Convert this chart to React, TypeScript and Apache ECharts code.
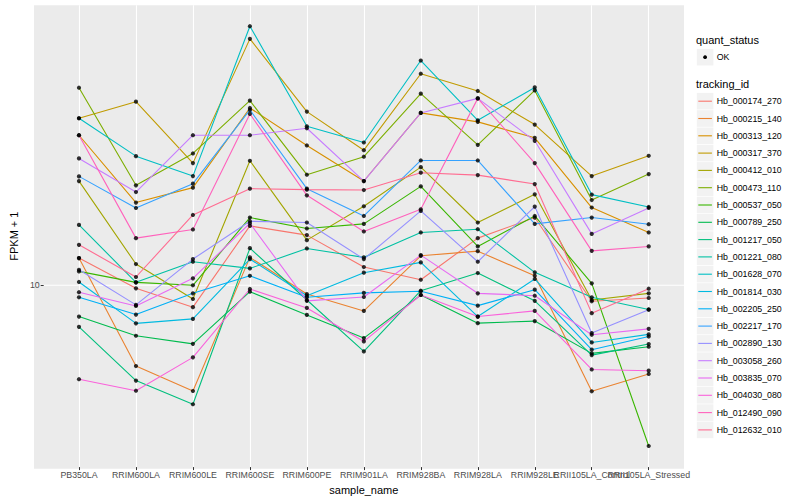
import React, { useEffect, useRef } from 'react';
import * as echarts from 'echarts';

const categories = [
  'PB350LA', 'RRIM600LA', 'RRIM600LE', 'RRIM600SE', 'RRIM600PE', 'RRIM901LA',
  'RRIM928BA', 'RRIM928LA', 'RRIM928LE', 'RRII105LA_Control', 'RRII105LA_Stressed',
];

const trackingIds = [
  'Hb_000174_270', 'Hb_000215_140', 'Hb_000313_120', 'Hb_000317_370', 'Hb_000412_010',
  'Hb_000473_110', 'Hb_000537_050', 'Hb_000789_250', 'Hb_001217_050', 'Hb_001221_080',
  'Hb_001628_070', 'Hb_001814_030', 'Hb_002205_250', 'Hb_002217_170', 'Hb_002890_130',
  'Hb_003058_260', 'Hb_003835_070', 'Hb_004030_080', 'Hb_012490_090', 'Hb_012632_010',
];

const lineColors = [
  '#F8766D', '#EA8331', '#D89000', '#C09B00', '#A3A500', '#7CAE00', '#39B600', '#00BB4E',
  '#00BF7D', '#00C1A3', '#00BFC4', '#00BAE0', '#00B0F6', '#35A2FF', '#9590FF', '#C77CFF',
  '#E76BF3', '#FA62DB', '#FF62BC', '#FF6C91',
];

// FPKM + 1 per sample (same order as categories)
const hb000174_270 = [12.33, 9.77, 8.45, 15.8, 14.72, 11.51, 10.44, 14.38, 16.85, 8.84, 9.07];
const hb000215_140 = [12.33, 5.37, 4.43, 12.4, 9.35, 8.21, 12.55, 13.01, 10.76, 4.42, 5.05];
const hb000313_120 = [31.77, 18.91, 21.22, 39.2, 29.36, 22.33, 37.73, 35.22, 31.14, 18.2, 15.02];
const hb000317_370 = [36.21, 41.14, 25.63, 66.74, 38.11, 28.31, 51.02, 44.67, 34.49, 23.19, 27.12];
const hb000412_010 = [22.32, 11.78, 9.0, 26.1, 14.16, 18.38, 24.85, 16.22, 20.15, 8.93, 9.4];
const hb000473_110 = [45.81, 21.6, 27.61, 41.46, 23.44, 26.92, 43.75, 29.51, 44.87, 19.29, 23.55];
const hb000537_050 = [11.13, 10.23, 10.0, 16.85, 15.49, 16.05, 21.43, 13.49, 17.06, 10.15, 2.9];
const hb000789_250 = [7.86, 6.78, 6.37, 9.52, 7.96, 6.66, 9.28, 7.47, 7.59, 5.92, 6.23];
const hb001217_050 = [7.26, 4.8, 4.0, 13.31, 8.93, 6.01, 9.59, 10.99, 8.87, 5.84, 6.36];
const hb001221_080 = [15.92, 10.23, 11.99, 11.39, 13.28, 12.4, 15.02, 15.4, 11.05, 9.12, 8.3];
const hb001628_070 = [36.21, 27.04, 23.19, 73.56, 34.04, 30.04, 56.49, 35.65, 45.92, 20.11, 18.28];
const hb001814_030 = [10.26, 7.46, 7.72, 12.24, 9.23, 11.02, 11.93, 7.86, 10.5, 6.44, 6.85];
const hb002205_250 = [9.12, 7.98, 9.4, 10.76, 9.12, 9.43, 9.55, 8.55, 9.67, 6.09, 6.74];
const hb002217_170 = [23.14, 18.14, 21.88, 38.61, 21.05, 17.06, 26.16, 26.16, 16.05, 16.85, 16.01];
const hb002890_130 = [11.27, 8.6, 12.24, 16.38, 16.22, 12.24, 17.73, 11.99, 18.34, 6.92, 8.29];
const hb003058_260 = [26.57, 20.51, 31.77, 31.77, 33.52, 22.32, 37.73, 42.2, 30.43, 14.86, 18.14];
const hb003835_070 = [9.48, 8.53, 10.55, 16.13, 8.87, 9.14, 12.62, 9.4, 9.23, 6.83, 7.15];
const hb004030_080 = [4.85, 4.44, 5.74, 9.72, 8.4, 6.49, 9.28, 7.86, 8.21, 5.23, 5.18];
const hb012490_090 = [31.77, 14.38, 15.37, 37.44, 20.0, 15.14, 17.96, 42.2, 25.63, 13.04, 13.49];
const hb012632_010 = [13.66, 10.66, 17.19, 21.05, 20.89, 20.83, 23.81, 23.37, 21.81, 8.07, 9.74];

const seriesValues = [
  hb000174_270, hb000215_140, hb000313_120, hb000317_370, hb000412_010,
  hb000473_110, hb000537_050, hb000789_250, hb001217_050, hb001221_080,
  hb001628_070, hb001814_030, hb002205_250, hb002217_170, hb002890_130,
  hb003058_260, hb003835_070, hb004030_080, hb012490_090, hb012632_010,
];

const yTickValues = [10];
const yTickLabels = ['10'];
const quantStatus = ['OK'];

export default function App() {
  const ref = useRef<HTMLDivElement>(null);

  useEffect(() => {
    if (!ref.current) return;
    const chart = echarts.init(ref.current, undefined, { renderer: 'svg' });
    const font = '"Liberation Sans", Arial, Helvetica, sans-serif';
    const panel = { x: 34, y: 5.2, w: 650, h: 463.6 };

    const lineSeries = trackingIds.map((id, i) => ({
      type: 'line',
      name: id,
      data: seriesValues[i],
      symbol: 'none',
      lineStyle: { color: lineColors[i], width: 1.1 },
      itemStyle: { color: lineColors[i] },
      z: 2,
      silent: true,
    }));
    const pointSeries = trackingIds.map((id, i) => ({
      type: 'scatter',
      name: id + ' OK',
      data: seriesValues[i],
      symbol: 'circle',
      symbolSize: 4.2,
      itemStyle: { color: '#000000' },
      z: 3,
      silent: true,
    }));

    chart.setOption({
      animation: false,
      textStyle: { fontFamily: font },
      grid: { left: 69.3, right: 151.3, top: panel.y, bottom: 500 - (panel.y + panel.h), containLabel: false },
      xAxis: {
        type: 'category',
        data: categories,
        boundaryGap: false,
        name: 'sample_name',
        nameLocation: 'middle',
        nameGap: 14,
        nameTextStyle: { color: '#000000', fontSize: 11, fontFamily: font },
        axisLine: { show: false },
        axisTick: { show: true, length: 3, alignWithLabel: true, lineStyle: { color: '#333333', width: 1 } },
        axisLabel: { interval: 0, color: '#4D4D4D', fontSize: 8.8, margin: 3, fontFamily: font },
        splitLine: { show: true, lineStyle: { color: '#FFFFFF', width: 1.1 } },
      },
      yAxis: {
        type: 'log',
        logBase: 10,
        min: 2.465,
        max: 86.5,
        offset: 69.3 - panel.x,
        name: 'FPKM + 1',
        nameLocation: 'middle',
        nameGap: 17,
        nameRotate: 90,
        nameTextStyle: { color: '#000000', fontSize: 11, fontFamily: font },
        axisLine: { show: false },
        axisTick: { show: true, length: 3, customValues: yTickValues, lineStyle: { color: '#333333', width: 1 } },
        axisLabel: {
          customValues: yTickValues,
          color: '#4D4D4D',
          fontSize: 8.8,
          margin: 4,
          fontFamily: font,
          formatter: (v: number) => {
            const k = yTickValues.findIndex((t) => Math.abs(t - v) < 1e-6);
            return k >= 0 ? yTickLabels[k] : '';
          },
        },
        splitLine: { show: false },
      },
      series: [...lineSeries, ...pointSeries],
    });

    const yTickPx = yTickValues.map((v) => chart.convertToPixel({ yAxisIndex: 0 }, v) as number);

    const legendX = 696.8;
    const keySize = 16.6;
    const pitch = 17.3;
    const firstKeyCy = 101.2;
    const graphics: any[] = [
      {
        type: 'rect',
        z: -10,
        silent: true,
        shape: { x: panel.x, y: panel.y, width: panel.w, height: panel.h },
        style: { fill: '#EBEBEB' },
      },
      ...yTickPx.map((py) => ({
        type: 'line',
        z: -5,
        silent: true,
        shape: { x1: panel.x, y1: py, x2: panel.x + panel.w, y2: py },
        style: { stroke: '#FFFFFF', lineWidth: 1.1 },
      })),
      {
        type: 'text',
        x: legendX - 0.8,
        y: 40,
        style: { text: 'quant_status', fill: '#000000', fontSize: 11, fontFamily: font, verticalAlign: 'middle' },
      },
      ...quantStatus.flatMap((q, i) => [
        {
          type: 'rect',
          shape: { x: legendX, y: 57.2 - keySize / 2 + i * pitch, width: keySize, height: keySize },
          style: { fill: '#F2F2F2' },
        },
        {
          type: 'circle',
          shape: { cx: legendX + keySize / 2, cy: 57.2 + i * pitch, r: 1.9 },
          style: { fill: '#000000' },
        },
        {
          type: 'text',
          x: 716.7,
          y: 57.2 + i * pitch,
          style: { text: q, fill: '#000000', fontSize: 8.8, fontFamily: font, verticalAlign: 'middle' },
        },
      ]),
      {
        type: 'text',
        x: legendX - 0.8,
        y: 84,
        style: { text: 'tracking_id', fill: '#000000', fontSize: 11, fontFamily: font, verticalAlign: 'middle' },
      },
      ...trackingIds.flatMap((id, i) => {
        const cy = firstKeyCy + i * pitch;
        return [
          {
            type: 'rect',
            shape: { x: legendX, y: cy - keySize / 2, width: keySize, height: keySize },
            style: { fill: '#F2F2F2' },
          },
          {
            type: 'line',
            shape: { x1: legendX + 1.5, y1: cy, x2: legendX + keySize - 1.5, y2: cy },
            style: { stroke: lineColors[i], lineWidth: 1.1 },
          },
          {
            type: 'text',
            x: 716.7,
            y: cy,
            style: { text: id, fill: '#000000', fontSize: 8.8, fontFamily: font, verticalAlign: 'middle' },
          },
        ];
      }),
    ];

    chart.setOption({ graphic: graphics });

    return () => chart.dispose();
  }, []);

  return <div ref={ref} style={{ position: 'absolute', left: 0, top: 0, width: 800, height: 500 }} />;
}
